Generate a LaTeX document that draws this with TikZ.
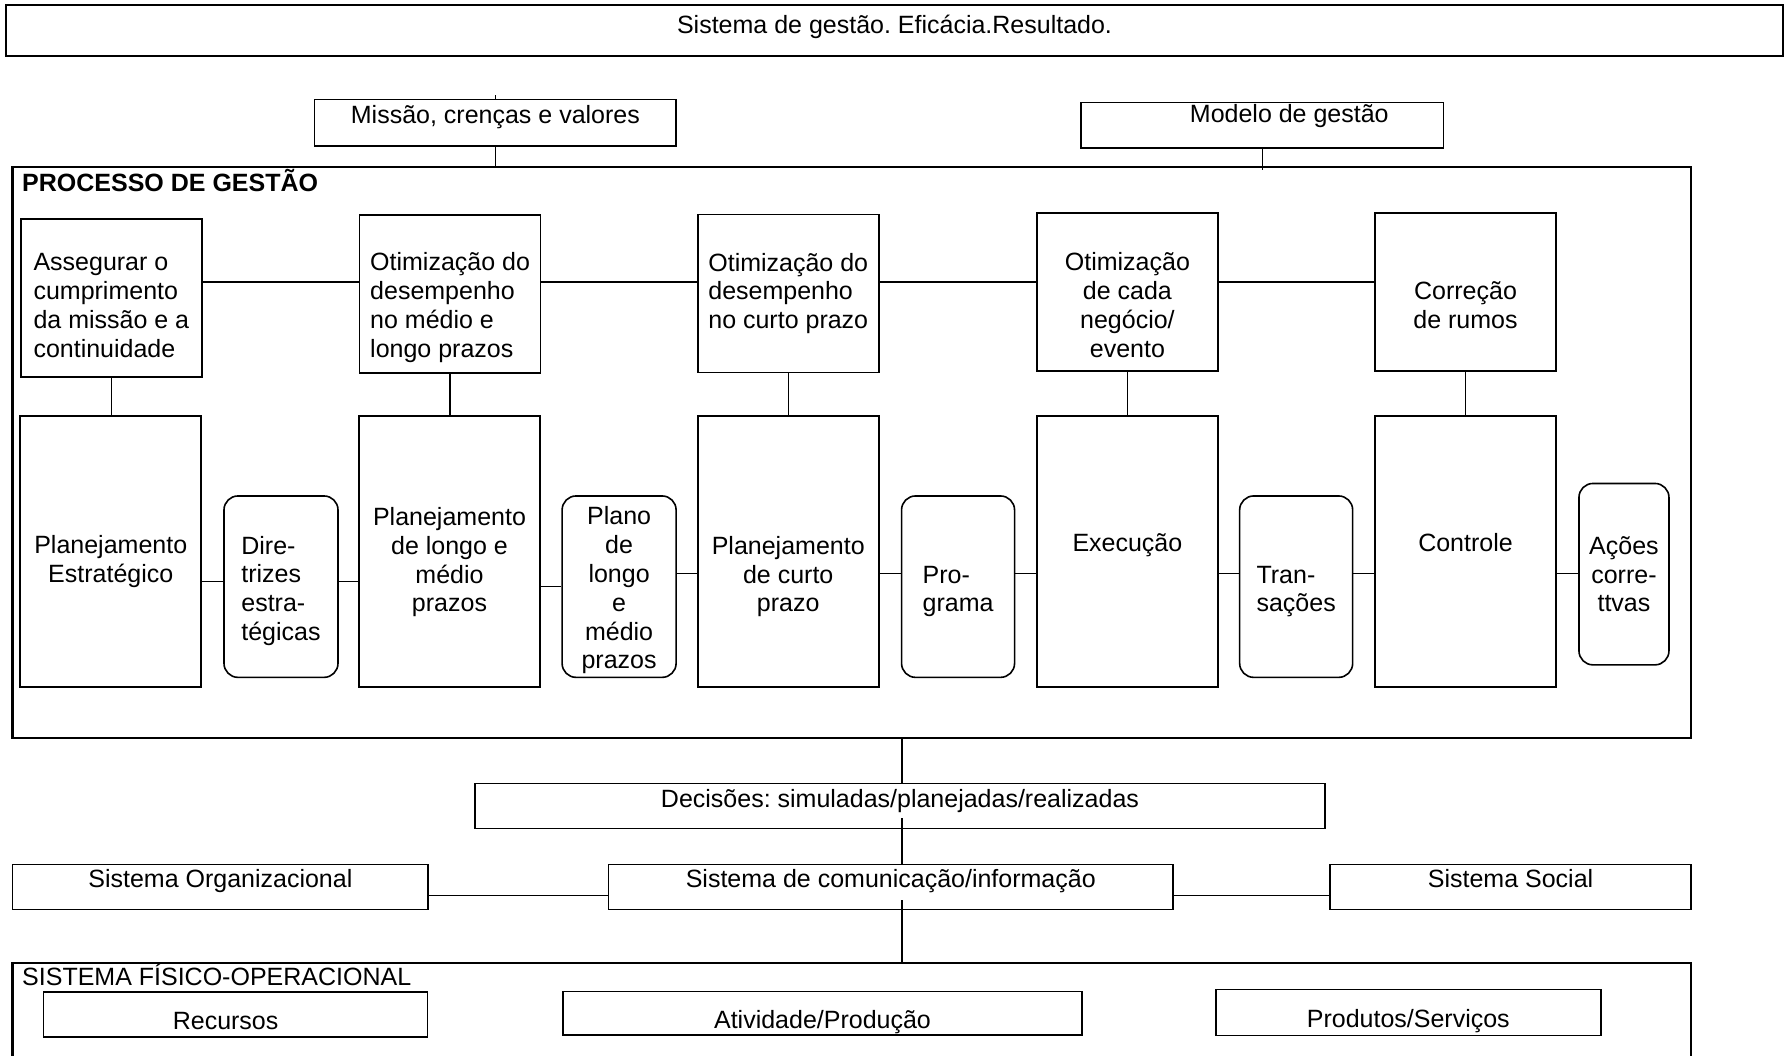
\documentclass[tikz,border=0pt]{standalone}
\usepackage{fontspec}
\setmainfont{Liberation Sans}
\usepackage{tikz}
\usetikzlibrary{positioning,calc}
\frenchspacing

\begin{document}
\begin{tikzpicture}[x=0.5pt,y=-0.5pt,
  every node/.style={font=\fontsize{12.5}{14.4}\selectfont, inner sep=3pt},
  box/.style={draw, line width=0.8pt},
  frame/.style={draw, line width=1.2pt},
  link/.style={line width=0.7pt},
  onebox/.style={box, inner ysep=1pt, text height=9pt, text depth=8pt},
  lowbox/.style={box, inner ysep=1pt, text height=15pt, text depth=0pt},
  goalbox/.style={box, minimum width=90.5pt, minimum height=79pt, text depth=0pt},
  planbox/.style={box, minimum width=90.5pt, minimum height=135.5pt, text depth=0pt},
  docbox/.style={box, rounded corners=7pt, minimum width=57pt, minimum height=90.7pt}]

  \path[use as bounding box, fill=white] (0,0) rectangle (1791,1055);

  % cabecalho
  \node[frame, text height=9pt, text depth=6pt, minimum width=888.5pt, minimum height=25.5pt] (res) at (894.5,30.5) {Sistema de gestão. Eficácia.Resultado.};
  \node[onebox, minimum width=180.8pt, minimum height=23.4pt] (mis) at (495.4,122.7) {Missão, crenças e valores};
  \node[onebox, inner ysep=0pt, text depth=11.4pt, minimum width=181.1pt, minimum height=22.7pt] (mod) at (1262.3,125) {\hspace{27pt}Modelo de gestão};

  % processo de gestao
  \node[frame, minimum width=839.1pt, minimum height=285.5pt] (proc) at (851.7,452.2) {};
  \node[font=\fontsize{12.5}{14.4}\selectfont\bfseries, anchor=base west, inner sep=0pt] (proclbl) at (21.8,191.7) {PROCESSO DE GESTÃO};

  \node[goalbox, align=left, text height=59pt] (ass) at (111.35,298.2) {Assegurar o\\cumprimento\\da missão e a\\continuidade};
  \node[goalbox, align=left, text height=63.3pt] (otl) at (450.1,293.9) {Otimização do\\desempenho\\no médio e\\longo prazos};
  \node[goalbox, align=left, text height=37.9pt, text depth=2.6pt] (otc) at (788.25,293.3) {Otimização do\\desempenho\\no curto prazo};
  \node[goalbox, align=center, text height=65.5pt] (otn) at (1127.4,291.7) {Otimização\\de cada\\negócio/\\evento};
  \node[goalbox, align=center, text height=36.9pt] (cor) at (1465.5,291.7) {Correção\\de rumos};

  \node[planbox, align=center, text height=31pt] (pe) at (110.75,551.2) {Planejamento\\Estratégico};
  \node[planbox, align=center, text height=60.7pt] (plm) at (449.5,551.2) {Planejamento\\de longo e\\médio\\prazos};
  \node[planbox, align=center, text height=60.7pt] (pcp) at (788.25,551.2) {Planejamento\\de curto\\prazo};
  \node[planbox, text height=9pt, text depth=9pt] (exe) at (1127.4,551.2) {Execução};
  \node[planbox, text height=9pt, text depth=9pt] (con) at (1465.5,551.2) {Controle};

  \node[docbox, align=left, text height=53.8pt, text depth=0pt] (dir) at (281,586.65) {Dire-\\trizes\\estra-\\tégicas};
  \node[docbox, align=center, text height=82.3pt, text depth=0pt] (plo) at (619.1,586.65) {Plano\\de\\longo\\e\\médio\\prazos};
  \node[docbox, align=left, text height=25.3pt, text depth=0pt, minimum width=56.5pt] (prg) at (958.05,586.65) {Pro-\\grama};
  \node[docbox, align=left, text height=25.3pt, text depth=0pt, minimum width=56.5pt] (tra) at (1296.15,586.65) {Tran-\\sações};
  \node[docbox, align=center, minimum width=45pt] (aco) at (1623.95,574.15) {Ações\\corre-\\ttvas};

  \coordinate (lvltop) at (0,282);
  \coordinate (lvldir) at (0,581.7);
  \coordinate (lvlbot) at (0,573.7);

  \foreach \a/\b in {ass/otl,otl/otc,otc/otn,otn/cor}
    \draw[link] (\a.east |- lvltop) -- (\b.west |- lvltop);
  \foreach \a/\b in {ass/pe,otl/plm,otc/pcp,otn/exe,cor/con}
    \draw[link] (\a.south) -- (\a.south |- \b.north);
  \draw[link] (pe.east |- lvldir) -- (dir.west |- lvldir);
  \draw[link] (dir.east |- lvldir) -- (plm.west |- lvldir);
  \draw[link] (plm.east |- plo) -- (plo.west);
  \foreach \a/\b in {plo/pcp,pcp/prg,prg/exe,exe/tra,tra/con,con/aco}
    \draw[link] (\a.east |- lvlbot) -- (\b.west |- lvlbot);

  \draw[link] (mis.north) -- ++(0,-4);
  \draw[link] (mis.south) -- (mis.south |- proc.north);
  \draw[link] (mod.south) -- ($(mod.south |- proc.north)+(0,4)$);

  % sistemas
  \node[onebox, minimum width=425pt, minimum height=22.5pt] (dec) at (900,806) {Decisões: simuladas/planejadas/realizadas};
  \node[onebox, minimum width=207.8pt, minimum height=22.5pt] (org) at (220.4,886.8) {Sistema Organizacional};
  \node[onebox, minimum width=282.3pt, minimum height=22.5pt] (com) at (890.75,886.8) {Sistema de comunicação/informação};
  \node[onebox, minimum width=180.3pt, minimum height=22.5pt] (soc) at (1510.55,886.8) {Sistema Social};

  % sistema fisico-operacional
  \draw[frame] (12.6,1062) |- (1690.8,962.7) -- (1690.8,1062);
  \coordinate (sfotop) at (902,962.7);
  \node[anchor=base west, inner sep=0pt] (sfolbl) at (21.8,985.7) {SISTEMA FÍSICO-OPERACIONAL};
  \node[lowbox, minimum width=192pt, minimum height=22.5pt] (rec) at (235.6,1014.2) {\hspace{-10pt}Recursos};
  \node[lowbox, minimum width=259.3pt, minimum height=21.7pt] (ati) at (822.5,1013.3) {Atividade/Produção};
  \node[lowbox, minimum width=192.4pt, minimum height=23pt] (pro) at (1408.3,1012.3) {Produtos/Serviços};

  \coordinate (spine) at (902,0);
  \draw[link] (spine |- proc.south) -- (spine |- dec.north);
  \draw[link] ($(spine |- dec.south)+(0,-11)$) -- (spine |- com.north);
  \draw[link] ($(spine |- com.south)+(0,-10)$) -- (spine |- sfotop);
  \draw[link] ($(org.east)+(0,8.5)$) -- ($(com.west)+(0,8.5)$);
  \draw[link] ($(com.east)+(0,8.5)$) -- ($(soc.west)+(0,8.5)$);
\end{tikzpicture}
\end{document}
